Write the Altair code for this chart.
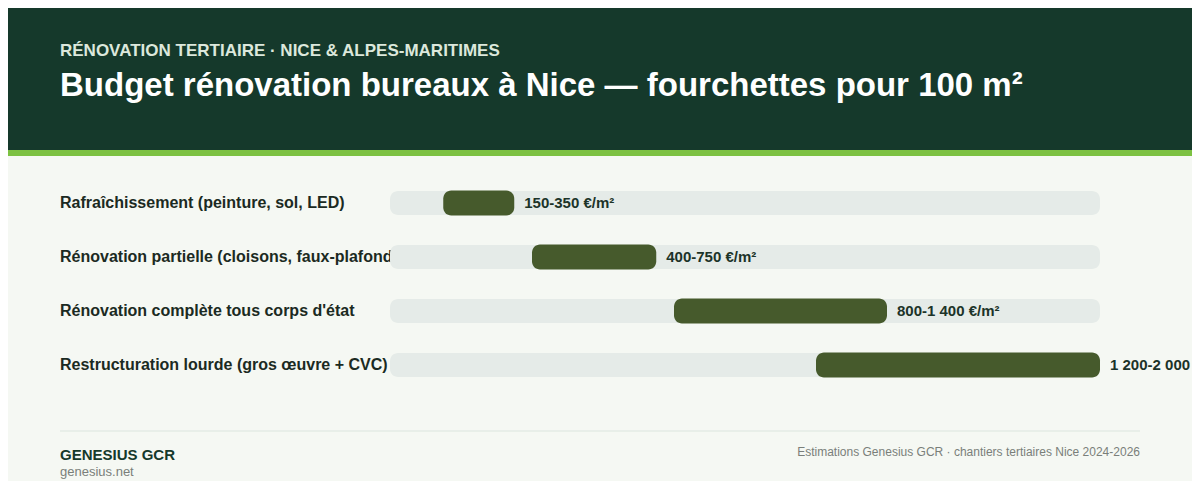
import altair as alt
import pandas as pd

categories = [
    "Rafraîchissement (peinture, sol, LED)",
    "Rénovation partielle (cloisons, faux-plafonds)",
    "Rénovation complète tous corps d'état",
    "Restructuration lourde (gros œuvre + CVC)",
]
low_values = [150, 400, 800, 1200]
high_values = [350, 750, 1400, 2000]
value_labels = ["150-350 €/m²", "400-750 €/m²", "800-1 400 €/m²", "1 200-2 000 €/m²"]
scale_max = 2000

kicker = "RÉNOVATION TERTIAIRE · NICE & ALPES-MARITIMES"
title = "Budget rénovation bureaux à Nice — fourchettes pour 100 m²"
brand = "GENESIUS GCR"
site = "genesius.net"
source = "Estimations Genesius GCR · chantiers tertiaires Nice 2024-2026"

W, H = 1184, 473
FONT = "Liberation Sans"

df = pd.DataFrame({
    "cat": categories,
    "low": low_values,
    "high": high_values,
    "zero": [0] * len(categories),
    "max": [scale_max] * len(categories),
    "label": value_labels,
})

xs = alt.Scale(domain=[0, scale_max], range=[382, 1092], nice=False, zero=False)
ys = alt.Scale(type="point", domain=categories, range=[195, 357], padding=0)

one = pd.DataFrame({"k": [0]})

header = alt.Chart(one).mark_rect(color="#15392b").encode(
    x=alt.value(0), x2=alt.value(W), y=alt.value(0), y2=alt.value(142))
stripe = alt.Chart(one).mark_rect(color="#7cc142").encode(
    x=alt.value(0), x2=alt.value(W), y=alt.value(142), y2=alt.value(148))

kicker_t = alt.Chart(pd.DataFrame({"t": [kicker]})).mark_text(
    font=FONT, fontSize=17, fontWeight="bold", color="#dce8dc", align="left", baseline="alphabetic"
).encode(text="t:N", x=alt.value(52), y=alt.value(48))
title_t = alt.Chart(pd.DataFrame({"t": [title]})).mark_text(
    font=FONT, fontSize=33, fontWeight="bold", color="#ffffff", align="left", baseline="alphabetic"
).encode(text="t:N", x=alt.value(52), y=alt.value(88))

cat_labels = alt.Chart(df).mark_text(
    font=FONT, fontSize=16, fontWeight="bold", color="#1b2a22", align="left", baseline="middle"
).encode(text="cat:N", x=alt.value(52), y=alt.Y("cat:N", scale=ys, axis=None))

track = alt.Chart(df).mark_bar(color="#e5ebe8", size=24, cornerRadius=8).encode(
    x=alt.X("zero:Q", scale=xs, axis=None), x2="max:Q",
    y=alt.Y("cat:N", scale=ys, axis=None))

bars = alt.Chart(df).mark_bar(color="#465a2c", size=25, cornerRadius=8).encode(
    x=alt.X("low:Q", scale=xs, axis=None), x2="high:Q",
    y=alt.Y("cat:N", scale=ys, axis=None))

vals = alt.Chart(df).mark_text(
    font=FONT, fontSize=15, fontWeight="bold", color="#1c3328", align="left", baseline="middle", dx=10
).encode(x=alt.X("high:Q", scale=xs, axis=None), y=alt.Y("cat:N", scale=ys, axis=None), text="label:N")

rule = alt.Chart(one).mark_rule(color="#dbe5de", strokeWidth=1).encode(
    x=alt.value(52), x2=alt.value(1132), y=alt.value(423))

brand_t = alt.Chart(pd.DataFrame({"t": [brand]})).mark_text(
    font=FONT, fontSize=15, fontWeight="bold", color="#15392b", align="left", baseline="alphabetic"
).encode(text="t:N", x=alt.value(52), y=alt.value(452))
site_t = alt.Chart(pd.DataFrame({"t": [site]})).mark_text(
    font=FONT, fontSize=13, color="#7a7f7a", align="left", baseline="alphabetic"
).encode(text="t:N", x=alt.value(52), y=alt.value(468))
source_t = alt.Chart(pd.DataFrame({"t": [source]})).mark_text(
    font=FONT, fontSize=12, color="#7a7f7a", align="right", baseline="alphabetic"
).encode(text="t:N", x=alt.value(1132), y=alt.value(448))

chart = alt.layer(
    header, stripe, kicker_t, title_t, cat_labels, track, bars, vals,
    rule, brand_t, site_t, source_t
).properties(
    width=W, height=H, padding=0, background="#f5f8f3",
    autosize=alt.AutoSizeParams(type="none")
).configure_view(stroke=None)

chart.save("out.html", embed_options={"renderer": "svg", "actions": False})
